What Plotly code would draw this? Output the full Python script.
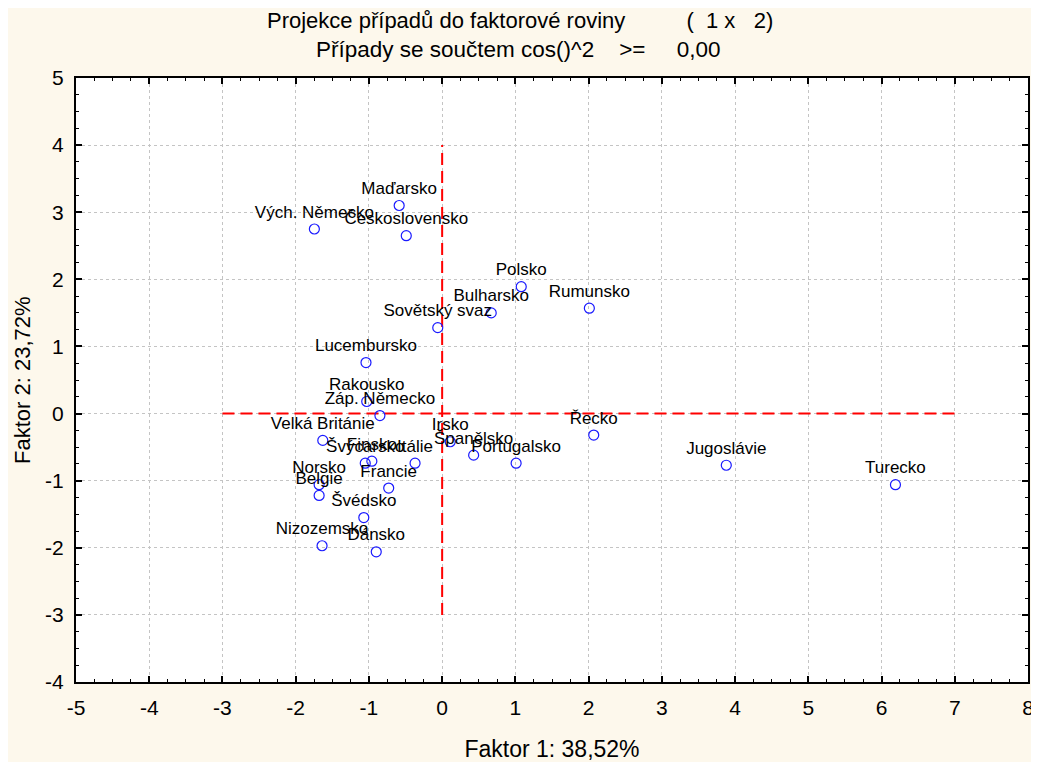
import plotly.graph_objects as go

countries = ["Vých. Německo", "Maďarsko", "Československo", "Polsko", "Bulharsko",
             "Rumunsko", "Sovětský svaz", "Lucembursko", "Rakousko", "Záp. Německo",
             "Velká Británie", "Švýcarsko", "Finsko", "Itálie", "Irsko", "Španělsko",
             "Portugalsko", "Norsko", "Belgie", "Francie", "Švédsko", "Nizozemsko",
             "Dánsko", "Řecko", "Jugoslávie", "Turecko"]
factor1 = [-1.745, -0.587, -0.49, 1.08, 0.67,
           2.01, -0.06, -1.04, -1.03, -0.85,
           -1.63, -1.05, -0.96, -0.37, 0.11, 0.43,
           1.01, -1.68, -1.68, -0.73, -1.07, -1.64,
           -0.90, 2.07, 3.88, 6.19]
factor2 = [2.75, 3.10, 2.65, 1.89, 1.50,
           1.57, 1.28, 0.76, 0.18, -0.03,
           -0.40, -0.74, -0.71, -0.74, -0.42, -0.62,
           -0.74, -1.06, -1.22, -1.11, -1.55, -1.97,
           -2.06, -0.32, -0.77, -1.06]

# reference cross lines
hline_x = [-3, 7]
hline_y = [0, 0]
vline_x = [0, 0]
vline_y = [-3, 4]

# tick values and labels (plain hyphen minus, as in the reference)
xtick_vals = [-5, -4, -3, -2, -1, 0, 1, 2, 3, 4, 5, 6, 7, 8]
xtick_text = ["-5", "-4", "-3", "-2", "-1", "0", "1", "2", "3", "4", "5", "6", "7", "8"]
ytick_vals = [-4, -3, -2, -1, 0, 1, 2, 3, 4, 5]
ytick_text = ["-4", "-3", "-2", "-1", "0", "1", "2", "3", "4", "5"]

NB = "\u00a0"
title1 = ("Projekce případů do faktorové roviny" + NB * 10 + "(" + NB * 2 + "1" + NB
          + "x" + NB * 3 + "2)")
title2 = "Případy se součtem cos()^2" + NB * 4 + ">=" + NB * 5 + "0,00"
xtitle = "Faktor 1: 38,52%"
ytitle = "Faktor 2: 23,72%"

FONT = "Arial, 'Liberation Sans', sans-serif"

fig = go.Figure()
fig.add_trace(go.Scatter(x=hline_x, y=hline_y, mode="lines",
                         line=dict(color="#ff0000", width=2, dash="12px,6px"),
                         hoverinfo="skip", showlegend=False))
fig.add_trace(go.Scatter(x=vline_x, y=vline_y, mode="lines",
                         line=dict(color="#ff0000", width=2, dash="12px,6px"),
                         hoverinfo="skip", showlegend=False))
fig.add_trace(go.Scatter(x=factor1, y=factor2, mode="markers+text", text=countries,
                         textposition="top center",
                         textfont=dict(family=FONT, size=17, color="black"),
                         marker=dict(symbol="circle-open", size=10,
                                     color="#1a1aff", line=dict(width=1.2)),
                         showlegend=False))

axis_common = dict(
    showline=True, linecolor="black", linewidth=2, mirror="allticks",
    ticks="inside", ticklen=6, tickwidth=1.5, tickcolor="black",
    showgrid=True, gridcolor="#c4c4c4", griddash="dot", gridwidth=1,
    zeroline=False, tickmode="array", automargin=False,
    tickfont=dict(family=FONT, size=21, color="black"),
    minor=dict(ticks="inside", ticklen=3, tickwidth=1.2, tickcolor="black",
               dtick=0.25, tick0=0, showgrid=False),
)

# page body has an 8px margin: shrink the figure by it so the page fits the window
OFF = 8
W, H = 1039 - OFF, 762 - OFF
M_L, M_R, M_T, M_B = 76 - OFF, 11, 78 - OFF, 80
plot_w = W - M_L - M_R
plot_h = H - M_T - M_B


def paper_x(page_x):
    return (page_x - OFF - M_L) / plot_w


def paper_y(page_y):
    return 1 + (78 - page_y) / plot_h


fig.update_layout(
    width=W, height=H,
    margin=dict(l=M_L, r=M_R, t=M_T, b=M_B),
    paper_bgcolor="#fdf8ec", plot_bgcolor="white",
    font=dict(family=FONT, color="black"),
    xaxis=dict(range=[-5, 8], tickvals=xtick_vals, ticktext=xtick_text,
               ticklabelstandoff=6,
               title=dict(text=xtitle, font=dict(size=23), standoff=23),
               **axis_common),
    yaxis=dict(range=[-4, 5], tickvals=ytick_vals, ticktext=ytick_text,
               ticklabelstandoff=6,
               **axis_common),
    annotations=[
        dict(text=title1, x=paper_x(520), y=paper_y(20), xref="paper", yref="paper",
             showarrow=False, font=dict(size=22), xanchor="center", yanchor="middle"),
        dict(text=title2, x=paper_x(518), y=paper_y(50), xref="paper", yref="paper",
             showarrow=False, font=dict(size=22.5), xanchor="center", yanchor="middle"),
        dict(text=ytitle, x=paper_x(22), y=0.5, xref="paper", yref="paper",
             showarrow=False, font=dict(size=22), textangle=-90,
             xanchor="center", yanchor="middle"),
    ],
)

fig.write_html("out.html")
